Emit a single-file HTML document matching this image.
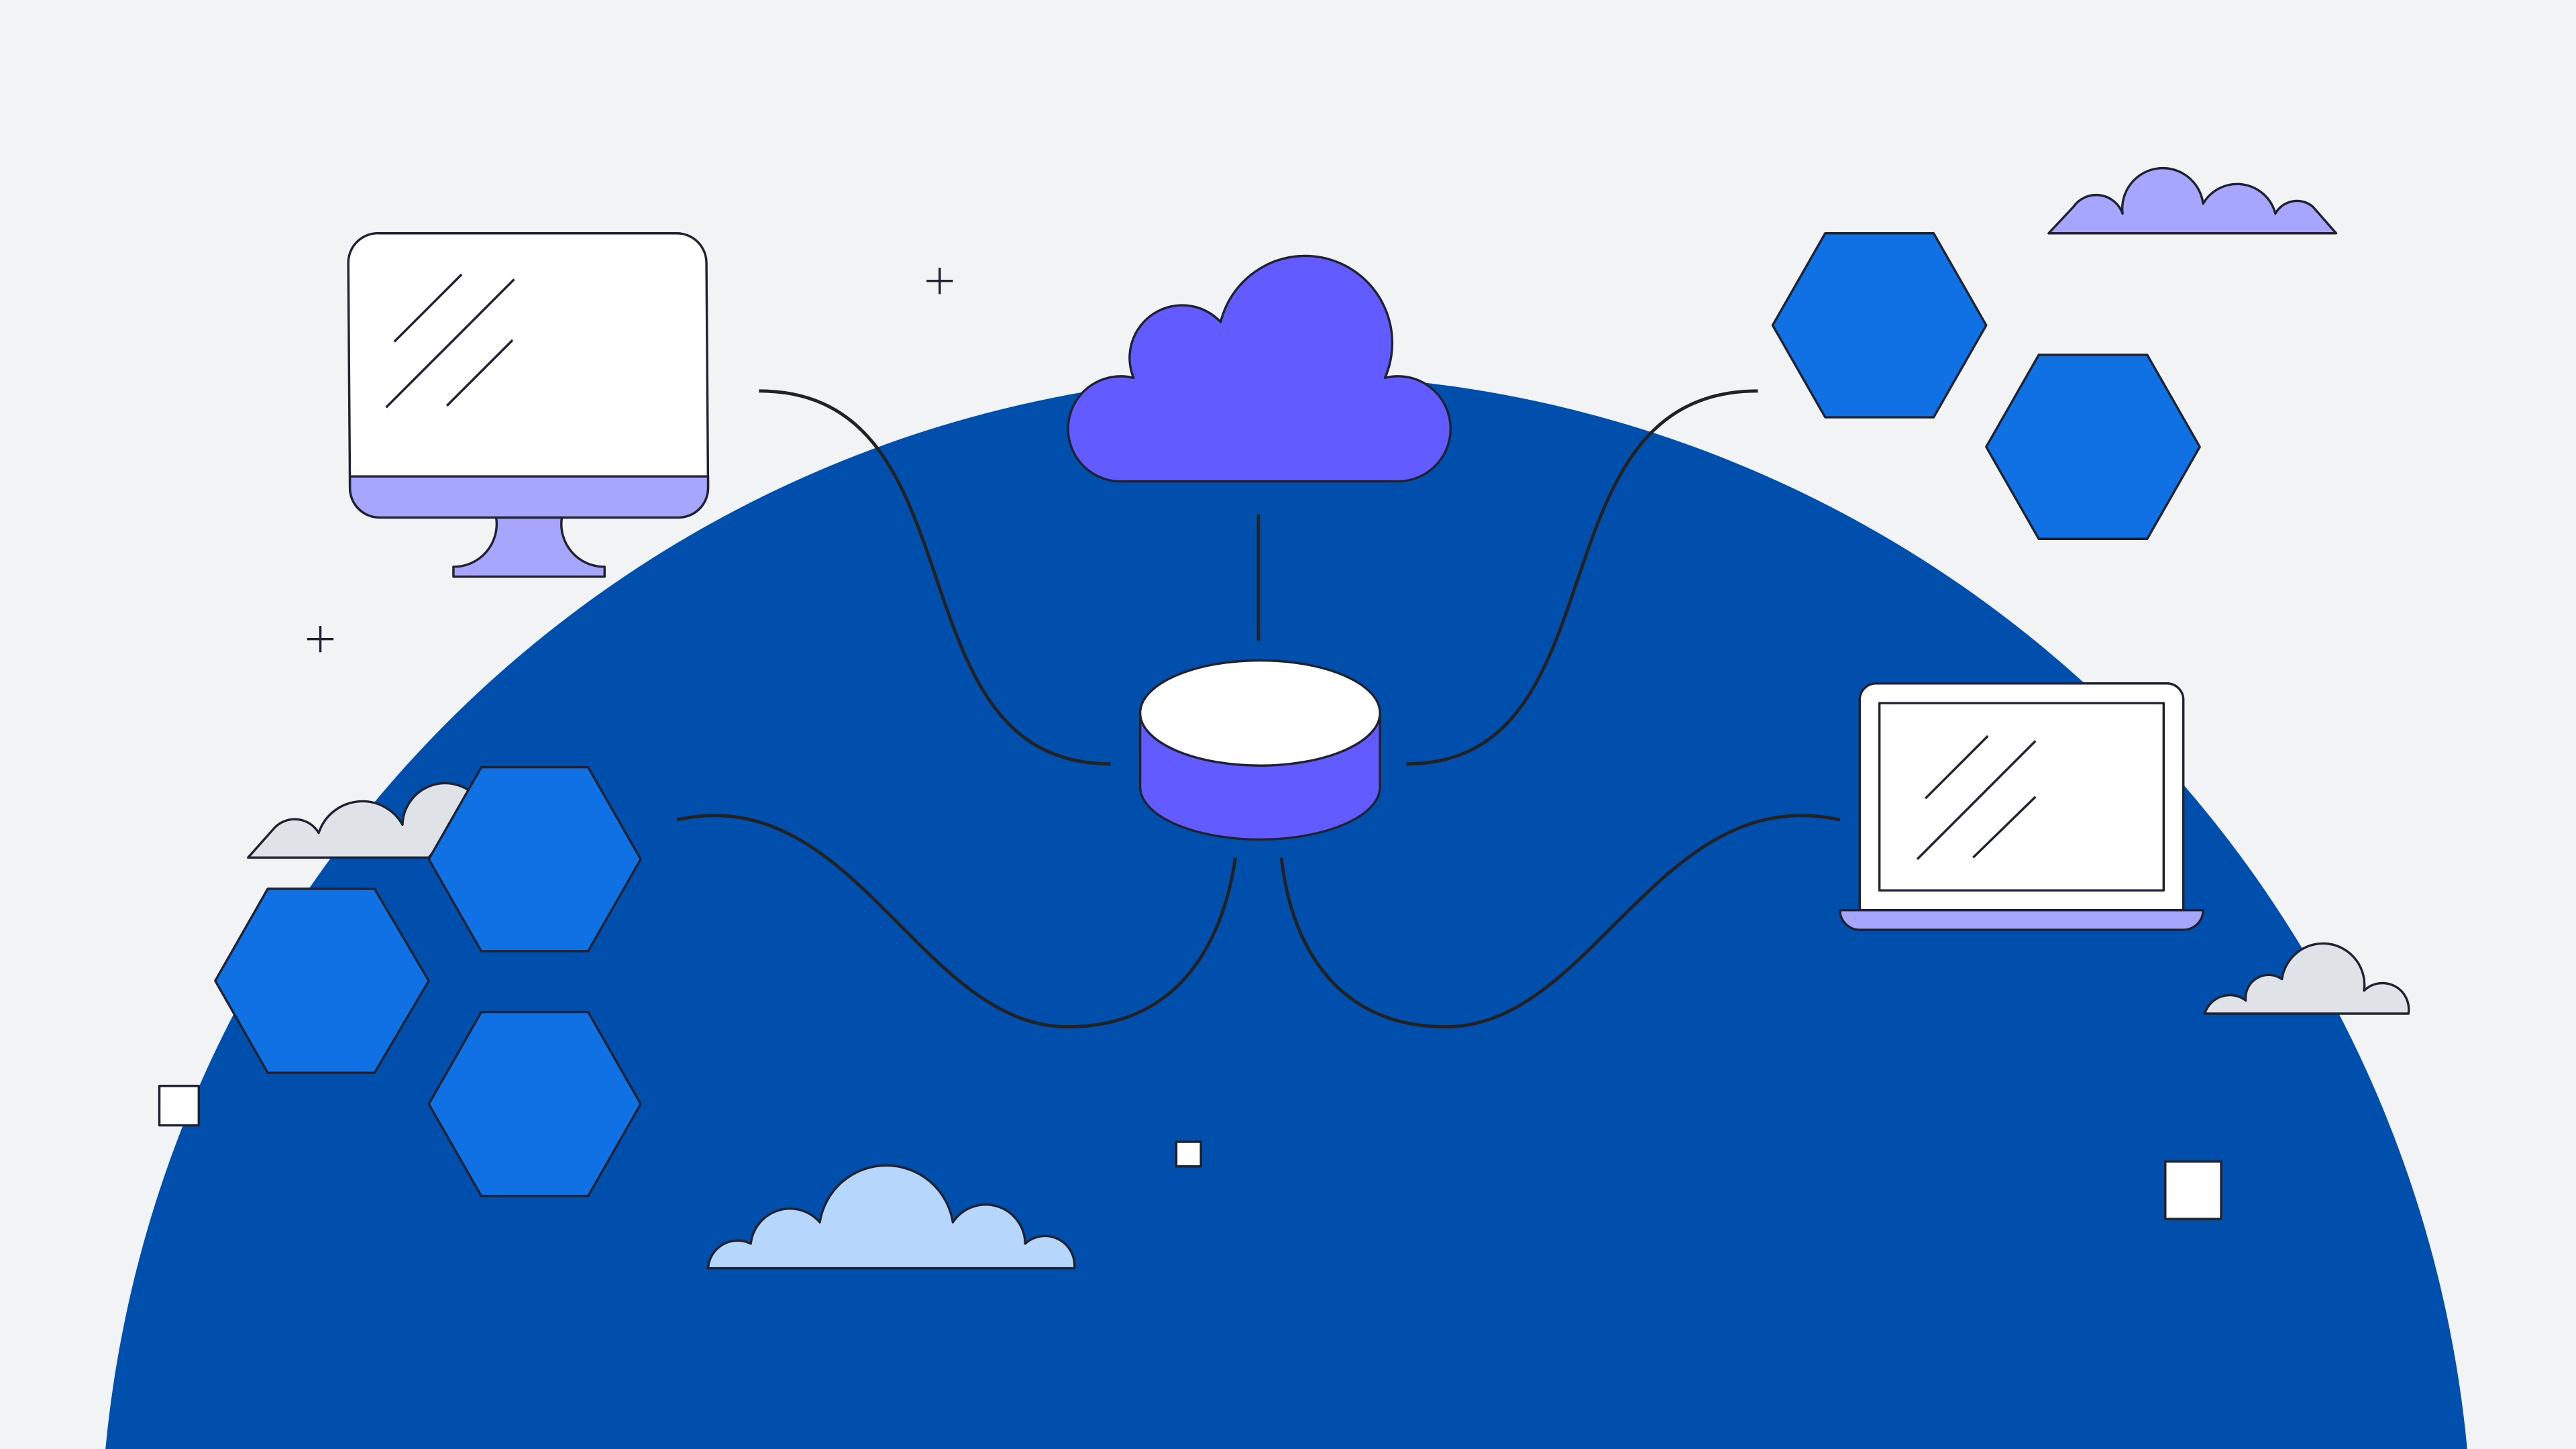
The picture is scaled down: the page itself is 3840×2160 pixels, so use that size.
<!DOCTYPE html>
<html><head><meta charset="utf-8"><style>html,body{margin:0;padding:0;background:#f2f3f5;overflow:hidden;width:3840px;height:2160px}svg{display:block;position:absolute;left:0;top:0}</style></head>
<body>
<svg width="3840" height="2160" viewBox="0 0 1568 882" xmlns="http://www.w3.org/2000/svg">
<rect width="1568" height="882" fill="#f2f3f5"/>
<circle cx="783" cy="950" r="722" fill="#004fad"/>
<g stroke="#1f2230" stroke-width="1.4" stroke-linejoin="round">
<g fill="none" stroke="#222" stroke-width="2">
<path d="M462,238 C600,238 540,465 676,465"/>
<path d="M1070,238 C930,238 990,465 856,465"/>
<path d="M766,313 L766,390"/>
<path d="M412,499 C520,475 560,625 650,625 C720,625 745,570 752,522"/>
<path d="M1120,499 C1010,475 970,625 880,625 C810,625 785,570 780,522"/>
</g>
<path d="M276,345 A26,26 0 0 0 302,315 L342,315 A26,26 0 0 0 368,345 L368,351 L276,351 Z" fill="#a6a6ff"/>
<path d="M231,142 L412,142 A18,18 0 0 1 430,160 L431,297 A18,18 0 0 1 413,315 L231,315 A18,18 0 0 1 213,297 L212,160 A18,18 0 0 1 231,142 Z" fill="#fff"/>
<path d="M213,290 L431,290 L431,297 A18,18 0 0 1 413,315 L231,315 A18,18 0 0 1 213,297 Z" fill="#a6a6ff"/>
<path d="M240,208 L281,167 M235,248 L313,170 M272,247 L312,207" fill="none"/>
<path d="M681,293 A32,32 0 1 1 690,230 A32,32 0 0 1 743,196 A53,53 0 1 1 843,230 A32,32 0 1 1 851,293 Z" fill="#625bff"/>
<path d="M694,434 L694,479 A73,32 0 0 0 840,479 L840,434 Z" fill="#625bff"/>
<ellipse cx="767" cy="434" rx="73" ry="32" fill="#fff"/>
<path d="M1247,142 L1262,126 A17,17 0 0 1 1292,130 A24,24 0 0 1 1341,124 A24,24 0 0 1 1385,130 A15,15 0 0 1 1408,126 L1422,142 Z" fill="#a6a6ff"/>
<polygon points="1111,142 1177,142 1209,198 1177,254 1111,254 1079,198" fill="#1071e5"/>
<polygon points="1241,216 1307,216 1339,272 1307,328 1241,328 1209,272" fill="#1071e5"/>
<path d="M151,522 L167,504 A17,17 0 0 1 194,507 A28,28 0 0 1 245,502 A26,26 0 0 1 290,485 L261,522 Z" fill="#dfe2e7"/>
<polygon points="293,467 358,467 390,523 358,579 293,579 261,523" fill="#1071e5"/>
<polygon points="163,541 228,541 261,597 228,653 163,653 131,597" fill="#1071e5"/>
<polygon points="293,616 358,616 390,672 358,728 293,728 261,672" fill="#1071e5"/>
<path d="M1142,416 L1319,416 A10,10 0 0 1 1329,426 L1329,555 L1132,555 L1132,426 A10,10 0 0 1 1142,416 Z" fill="#fff"/>
<rect x="1144" y="428" width="173" height="114" fill="#fff"/>
<path d="M1172,486 L1210,448 M1167,523 L1239,451 M1201,522 L1239,485" fill="none"/>
<path d="M1120,554 L1341,554 A12,12 0 0 1 1329,566 L1132,566 A12,12 0 0 1 1120,554 Z" fill="#a6a6ff"/>
<path d="M1342,617 A16,16 0 0 1 1367,609 A14,14 0 0 1 1389,596 A25,25 0 0 1 1439,603 A16,16 0 0 1 1466,617 Z" fill="#dfe2e7"/>
<path d="M431,772 A18,18 0 0 1 457,757 A24,24 0 0 1 499,744 A41,41 0 0 1 580,744 A24,24 0 0 1 624,757 A18,18 0 0 1 654,772 Z" fill="#b6d6fc"/>
<rect x="97" y="661" width="24" height="24" fill="#fff"/>
<rect x="716" y="695" width="15" height="15" fill="#fff"/>
<rect x="1318" y="707" width="34" height="35" fill="#fff"/>
<path d="M564,171 L580,171 M572,163 L572,179 M187,389 L203,389 M195,381 L195,397" fill="none"/>
</g>
</svg>
</body></html>
